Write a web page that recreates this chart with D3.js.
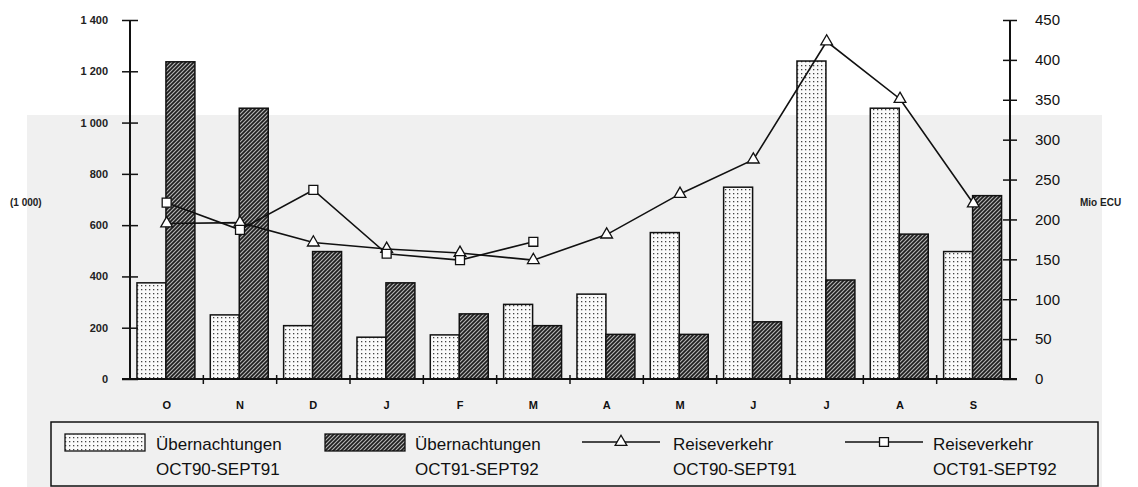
<!DOCTYPE html>
<html><head><meta charset="utf-8">
<script src="https://cdn.jsdelivr.net/npm/d3@7"></script>
<style>html,body{margin:0;padding:0;background:#fff;}svg{display:block;}</style>
</head><body>
<svg id="c" width="1138" height="487"></svg>
<script>
// ---- data ----
const months = ["O","N","D","J","F","M","A","M","J","J","A","S"];
const nights9091 = [375, 250, 208, 163, 172, 291, 331, 571, 748, 1240, 1056, 497];
const nights9192 = [1237, 1056, 497, 375, 254, 208, 174, 174, 223, 386, 565, 715];
const travel9091 = [195, 196, 171, 163, 158, 149, 181, 232, 275, 423, 351, 220];
const travel9192 = [221, 187, 237, 157, 149, 172];
const leftTicks = [0, 200, 400, 600, 800, 1000, 1200, 1400];
const rightTicks = [0, 50, 100, 150, 200, 250, 300, 350, 400, 450];
const legendLabels = [["Übernachtungen","OCT90-SEPT91"],["Übernachtungen","OCT91-SEPT92"],["Reiseverkehr","OCT90-SEPT91"],["Reiseverkehr","OCT91-SEPT92"]];

const svg = d3.select("#c");
const W = 1138, H = 487;
const L = 130, R = 1010, T = 20, B = 379;

// background (scanned look)
svg.append("rect").attr("width",W).attr("height",H).attr("fill","#ffffff");
svg.append("rect").attr("x",27).attr("y",115).attr("width",1075).attr("height",372).attr("fill","#f0f0f0");

const defs = svg.append("defs");
const pd = defs.append("pattern").attr("id","dots").attr("patternUnits","userSpaceOnUse").attr("width",4).attr("height",4);
pd.append("rect").attr("width",4).attr("height",4).attr("fill","#fafafa");
pd.append("rect").attr("x",1).attr("y",1).attr("width",1.3).attr("height",1.3).attr("fill","#444");
const ph = defs.append("pattern").attr("id","hatch").attr("patternUnits","userSpaceOnUse").attr("width",4).attr("height",4);
ph.append("rect").attr("width",4).attr("height",4).attr("fill","#b4b4b4");
ph.append("path").attr("d","M-1,1 l2,-2 M0,4 l4,-4 M3,5 l2,-2").attr("stroke","#1e1e1e").attr("stroke-width",1.7);

const x = d3.scaleBand().domain(d3.range(months.length)).range([L, R]);
const yL = d3.scaleLinear().domain([0, 1400]).range([B, T]);
const yR = d3.scaleLinear().domain([0, 450]).range([B, T]);
const bw = x.bandwidth();
const off = bw * 0.095, barW = bw * 0.395;

// bars
svg.append("g").selectAll("rect").data(nights9091).join("rect")
  .attr("x",(d,i)=>x(i)+off).attr("y",d=>yL(d)).attr("width",barW).attr("height",d=>B-yL(d))
  .attr("fill","url(#dots)").attr("stroke","#111").attr("stroke-width",1.5);
svg.append("g").selectAll("rect").data(nights9192).join("rect")
  .attr("x",(d,i)=>x(i)+off+barW).attr("y",d=>yL(d)).attr("width",barW).attr("height",d=>B-yL(d))
  .attr("fill","url(#hatch)").attr("stroke","#111").attr("stroke-width",1.5);

// axes
const fontTick = "Liberation Sans, Arial, sans-serif";
const axL = svg.append("g").attr("transform",`translate(${L},0)`)
  .call(d3.axisLeft(yL).tickValues(leftTicks).tickSize(8).tickFormat(d=>d3.format(",")(d).replace(",", " ")));
axL.select(".domain").attr("stroke","#111").attr("stroke-width",2).attr("d",`M0,${T}V${B}`);
axL.selectAll(".tick line").attr("x1",-8).attr("x2",8).attr("stroke","#111").attr("stroke-width",1.5);
axL.selectAll(".tick text").attr("x",-22).attr("font-size",11).attr("font-weight","bold").attr("font-family",fontTick).attr("fill","#222");

const axR = svg.append("g").attr("transform",`translate(${R},0)`)
  .call(d3.axisRight(yR).tickValues(rightTicks).tickSize(7));
axR.select(".domain").attr("stroke","#111").attr("stroke-width",2).attr("d",`M0,${T}V${B}`);
axR.selectAll(".tick line").attr("x1",-7).attr("x2",7).attr("stroke","#111").attr("stroke-width",1.5);
axR.selectAll(".tick text").attr("x",25).attr("font-size",15).attr("font-family",fontTick).attr("fill","#111");

// x axis
const axB = svg.append("g").attr("transform",`translate(0,${B})`)
  .call(d3.axisBottom(x).tickSize(0).tickFormat(i=>months[i]));
axB.select(".domain").attr("stroke","#111").attr("stroke-width",2).attr("d",`M${L-8},0H${R+7}`);
axB.selectAll(".tick text").attr("y",22).attr("font-size",11).attr("font-weight","bold").attr("font-family",fontTick).attr("fill","#111");
svg.append("g").selectAll("line").data(d3.range(1, months.length)).join("line")
  .attr("x1",i=>x(i)).attr("x2",i=>x(i)).attr("y1",B-4).attr("y2",B+5).attr("stroke","#111").attr("stroke-width",1.5);

// axis titles
svg.append("text").attr("x",10).attr("y",206).text("(1 000)").attr("font-size",10).attr("font-weight","bold").attr("font-family",fontTick).attr("fill","#222");
svg.append("text").attr("x",1080).attr("y",206).text("Mio ECU").attr("font-size",10).attr("font-weight","bold").attr("font-family",fontTick).attr("fill","#222");

// lines
const cx = i => x(i) + bw/2;
const line = d3.line().x((d,i)=>cx(i)).y(d=>yR(d));
svg.append("path").datum(travel9091).attr("d",line).attr("fill","none").attr("stroke","#111").attr("stroke-width",1.6);
svg.append("path").datum(travel9192).attr("d",line).attr("fill","none").attr("stroke","#111").attr("stroke-width",1.6);
const tri = d3.symbol().type(d3.symbolTriangle).size(60);
const sq = d3.symbol().type(d3.symbolSquare).size(80);
svg.append("g").selectAll("path").data(travel9091).join("path")
  .attr("transform",(d,i)=>`translate(${cx(i)},${yR(d)})`).attr("d",tri)
  .attr("fill","#fff").attr("stroke","#111").attr("stroke-width",1.3);
svg.append("g").selectAll("path").data(travel9192).join("path")
  .attr("transform",(d,i)=>`translate(${cx(i)},${yR(d)})`).attr("d",sq)
  .attr("fill","#fff").attr("stroke","#111").attr("stroke-width",1.3);

// legend
const lg = svg.append("g");
lg.append("rect").attr("x",51).attr("y",422).attr("width",1047).attr("height",64).attr("fill","#f0f0f0").attr("stroke","#111").attr("stroke-width",1.5);
const legX = [65, 325, 582, 845];
const txtX = [156, 415, 673, 933];
lg.append("rect").attr("x",legX[0]).attr("y",434).attr("width",80).attr("height",17).attr("fill","url(#dots)").attr("stroke","#111").attr("stroke-width",1.3);
lg.append("rect").attr("x",legX[1]).attr("y",434).attr("width",80).attr("height",17).attr("fill","url(#hatch)").attr("stroke","#111").attr("stroke-width",1.3);
[2,3].forEach(k=>{
  lg.append("line").attr("x1",legX[k]).attr("x2",legX[k]+78).attr("y1",442).attr("y2",442).attr("stroke","#111").attr("stroke-width",1.6);
  lg.append("path").attr("transform",`translate(${legX[k]+39},442)`).attr("d",k===2?tri:sq).attr("fill","#fff").attr("stroke","#111").attr("stroke-width",1.3);
});
legendLabels.forEach((lab,k)=>{
  const t = lg.append("text").attr("font-family",fontTick).attr("font-size",17).attr("fill","#111");
  t.append("tspan").attr("x",txtX[k]).attr("y",450).text(lab[0]);
  t.append("tspan").attr("x",txtX[k]).attr("y",475).text(lab[1]);
});
</script>
</body></html>
